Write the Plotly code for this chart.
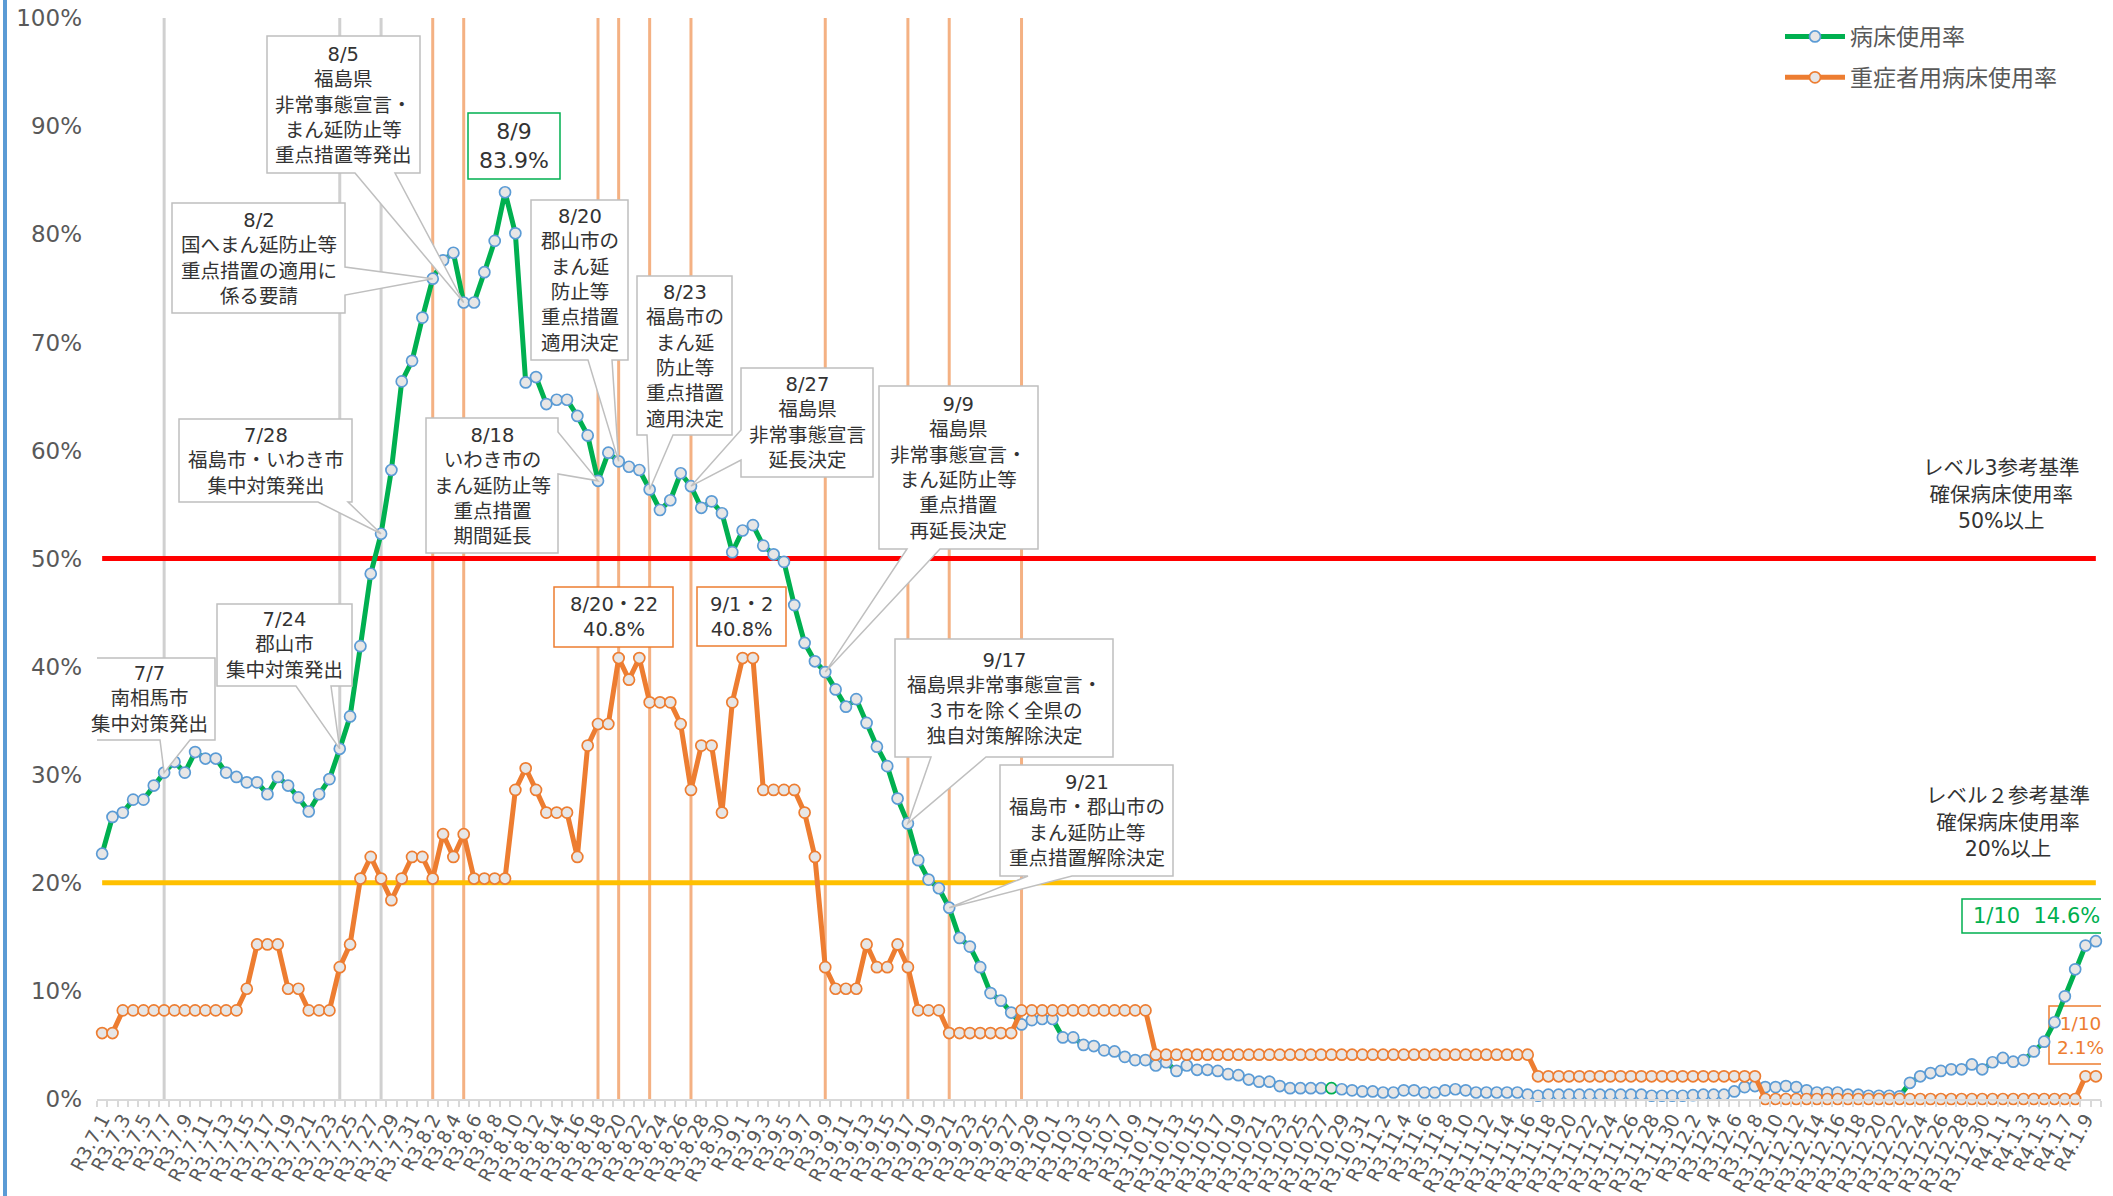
import datetime as dt
import plotly.graph_objects as go

# ---------------- data ----------------
START = dt.date(2021, 7, 1)
N_DAYS = 194
dates = [START + dt.timedelta(days=i) for i in range(N_DAYS)]
labels = [f"R{d.year - 2018}.{d.month}.{d.day}" for d in dates]

bed_rate = [  # 病床使用率 (%)
    22.7, 26.1, 26.5, 27.7, 27.7, 29.0, 30.2, 31.2, 30.2, 32.1,
    31.5, 31.5, 30.2, 29.8, 29.3, 29.3, 28.2, 29.8, 29.0, 27.9,
    26.6, 28.2, 29.6, 32.4, 35.4, 41.9, 48.6, 52.3, 58.2, 66.4,
    68.3, 72.3, 75.9, 77.6, 78.3, 73.7, 73.7, 76.5, 79.4, 83.9,
    80.1, 66.3, 66.8, 64.3, 64.7, 64.7, 63.2, 61.4, 57.2, 59.8,
    59.0, 58.5, 58.2, 56.4, 54.5, 55.4, 57.9, 56.7, 54.7, 55.3,
    54.2, 50.6, 52.6, 53.1, 51.2, 50.4, 49.7, 45.7, 42.2, 40.5,
    39.5, 37.9, 36.3, 37.0, 34.8, 32.6, 30.8, 27.8, 25.5, 22.1,
    20.3, 19.5, 17.7, 14.9, 14.1, 12.2, 9.8, 9.1, 8.0, 6.9,
    7.3, 7.4, 7.4, 5.7, 5.7, 5.0, 4.9, 4.5, 4.4, 3.9,
    3.6, 3.6, 3.1, 3.4, 2.6, 3.1, 2.7, 2.7, 2.6, 2.3,
    2.2, 1.8, 1.6, 1.6, 1.2, 1.0, 1.0, 1.0, 1.0, 1.0,
    0.9, 0.8, 0.7, 0.7, 0.6, 0.6, 0.8, 0.8, 0.6, 0.6,
    0.8, 0.9, 0.8, 0.6, 0.6, 0.6, 0.6, 0.6, 0.4, 0.3,
    0.4, 0.4, 0.4, 0.4, 0.4, 0.4, 0.4, 0.4, 0.4, 0.4,
    0.3, 0.3, 0.3, 0.3, 0.35, 0.4, 0.4, 0.4, 0.7, 1.1,
    1.2, 1.1, 1.1, 1.2, 1.1, 0.8, 0.6, 0.6, 0.6, 0.4,
    0.4, 0.3, 0.3, 0.3, 0.25, 1.5, 2.1, 2.4, 2.6, 2.75,
    2.75, 3.2, 2.75, 3.4, 3.8, 3.45, 3.6, 4.4, 5.3, 7.1,
    9.5, 12.0, 14.2, 14.6,
]

severe_rate = [  # 重症者用病床使用率 (%)
    6.1, 6.1, 8.2, 8.2, 8.2, 8.2, 8.2, 8.2, 8.2, 8.2,
    8.2, 8.2, 8.2, 8.2, 10.2, 14.3, 14.3, 14.3, 10.2, 10.2,
    8.2, 8.2, 8.2, 12.2, 14.3, 20.4, 22.4, 20.4, 18.4, 20.4,
    22.4, 22.4, 20.4, 24.5, 22.4, 24.5, 20.4, 20.4, 20.4, 20.4,
    28.6, 30.6, 28.6, 26.5, 26.5, 26.5, 22.4, 32.7, 34.7, 34.7,
    40.8, 38.8, 40.8, 36.7, 36.7, 36.7, 34.7, 28.6, 32.7, 32.7,
    26.5, 36.7, 40.8, 40.8, 28.6, 28.6, 28.6, 28.6, 26.5, 22.4,
    12.2, 10.2, 10.2, 10.2, 14.3, 12.2, 12.2, 14.3, 12.2, 8.2,
    8.2, 8.2, 6.1, 6.1, 6.1, 6.1, 6.1, 6.1, 6.1, 8.2,
    8.2, 8.2, 8.2, 8.2, 8.2, 8.2, 8.2, 8.2, 8.2, 8.2,
    8.2, 8.2, 4.1, 4.1, 4.1, 4.1, 4.1, 4.1, 4.1, 4.1,
    4.1, 4.1, 4.1, 4.1, 4.1, 4.1, 4.1, 4.1, 4.1, 4.1,
    4.1, 4.1, 4.1, 4.1, 4.1, 4.1, 4.1, 4.1, 4.1, 4.1,
    4.1, 4.1, 4.1, 4.1, 4.1, 4.1, 4.1, 4.1, 4.1, 2.1,
    2.1, 2.1, 2.1, 2.1, 2.1, 2.1, 2.1, 2.1, 2.1, 2.1,
    2.1, 2.1, 2.1, 2.1, 2.1, 2.1, 2.1, 2.1, 2.1, 2.1,
    2.1, 0.0, 0.0, 0.0, 0.0, 0.0, 0.0, 0.0, 0.0, 0.0,
    0.0, 0.0, 0.0, 0.0, 0.0, 0.0, 0.0, 0.0, 0.0, 0.0,
    0.0, 0.0, 0.0, 0.0, 0.0, 0.0, 0.0, 0.0, 0.0, 0.0,
    0.0, 0.0, 2.1, 2.1,
]

level3 = 50
level2 = 20
gray_events = ["R3.7.7", "R3.7.24", "R3.7.28"]
orange_events = ["R3.8.2", "R3.8.5", "R3.8.18", "R3.8.20", "R3.8.23",
                 "R3.8.27", "R3.9.9", "R3.9.17", "R3.9.21", "R3.9.28"]
odd_marker_date = "R3.10.28"

# ---------------- layout constants ----------------
W, H = 2113, 1196
YMAX = 100.3
ML, MR, MT, MB = 97, 12, 15, 97
PW, PH = W - ML - MR, H - MT - MB
FONT = "DejaVu Sans, Noto Sans CJK JP, sans-serif"
CJK = "Noto Sans CJK JP, sans-serif"
TXT = "#333333"
GREEN, BLUE, ORANGE = "#00B050", "#5B9BD5", "#ED7D31"


def px2x(px):
    return -0.5 + (px - ML) / PW * N_DAYS


def py2y(py):
    return (H - MB - py) / PH * YMAX


xs = list(range(N_DAYS))
idx = {lab: i for i, lab in enumerate(labels)}

fig = go.Figure()

# threshold lines
for lv, col in [(level3, "#FF0000"), (level2, "#FFC000")]:
    fig.add_trace(go.Scatter(x=[xs[0], xs[-1]], y=[lv, lv], mode="lines",
                             line=dict(color=col, width=5), showlegend=False,
                             hoverinfo="skip", cliponaxis=False))

green_outline = [GREEN if labels[i] == odd_marker_date else BLUE for i in xs]
fig.add_trace(go.Scatter(
    x=xs, y=bed_rate, name="病床使用率", mode="lines+markers",
    line=dict(color=GREEN, width=5),
    marker=dict(size=11, color="#E7E6E6", line=dict(color=green_outline, width=1.7)),
    legendgroup="a", cliponaxis=False,
    customdata=labels, hovertemplate="%{customdata}: %{y:.1f}%<extra></extra>"))
fig.add_trace(go.Scatter(
    x=xs, y=severe_rate, name="重症者用病床使用率", mode="lines+markers",
    line=dict(color=ORANGE, width=5),
    marker=dict(size=11, color="#E7E6E6", line=dict(color=ORANGE, width=1.7)),
    legendgroup="b", cliponaxis=False,
    customdata=labels, hovertemplate="%{customdata}: %{y:.1f}%<extra></extra>"))

shapes = []
# left blue border
shapes.append(dict(type="rect", xref="paper", yref="paper",
                   x0=(3 - ML) / PW, x1=(7 - ML) / PW,
                   y0=(H - MB - H) / PH, y1=(H - MB) / PH,
                   fillcolor=BLUE, line=dict(width=0), layer="above"))
# event lines
for ev in gray_events:
    i = idx[ev]
    shapes.append(dict(type="line", xref="x", yref="y", x0=i, x1=i, y0=0, y1=py2y(18),
                       line=dict(color="#D0D0D0", width=3), layer="below"))
for ev in orange_events:
    i = idx[ev]
    shapes.append(dict(type="line", xref="x", yref="y", x0=i, x1=i, y0=0, y1=py2y(18),
                       line=dict(color="#F4B183", width=3), layer="below"))

annotations = []

# callouts: text, box (left, right, top, bottom px), wedge side, wedge base (px), target date
callouts = [
    ("7/7<br>南相馬市<br>集中対策発出", (83, 215, 658, 740), "b", (160, 190), "R3.7.7"),
    ("7/24<br>郡山市<br>集中対策発出", (217, 352, 604, 686), "b", (296, 331), "R3.7.24"),
    ("7/28<br>福島市・いわき市<br>集中対策発出", (179, 352, 419, 502), "b", (318, 348), "R3.7.28"),
    ("8/2<br>国へまん延防止等<br>重点措置の適用に<br>係る要請", (172, 345, 203, 313), "r", (267, 295), "R3.8.2"),
    ("8/5<br>福島県<br>非常事態宣言・<br>まん延防止等<br>重点措置等発出", (267, 420, 36, 173), "b", (355, 395), "R3.8.5"),
    ("8/18<br>いわき市の<br>まん延防止等<br>重点措置<br>期間延長", (426, 558, 418, 553), "r", (432, 474), "R3.8.18"),
    ("8/20<br>郡山市の<br>まん延<br>防止等<br>重点措置<br>適用決定", (531, 628, 200, 360), "b", (588, 612), "R3.8.20"),
    ("8/23<br>福島市の<br>まん延<br>防止等<br>重点措置<br>適用決定", (637, 732, 276, 435), "b", (647, 673), "R3.8.23"),
    ("8/27<br>福島県<br>非常事態宣言<br>延長決定", (741, 873, 368, 477), "l", (430, 460), "R3.8.27"),
    ("9/9<br>福島県<br>非常事態宣言・<br>まん延防止等<br>重点措置<br>再延長決定", (879, 1038, 386, 549), "b", (907, 940), "R3.9.9"),
    ("9/17<br>福島県非常事態宣言・<br>３市を除く全県の<br>独自対策解除決定", (895, 1113, 639, 757), "b", (931, 986), "R3.9.17"),
    ("9/21<br>福島市・郡山市の<br>まん延防止等<br>重点措置解除決定", (1000, 1173, 765, 876), "b", (1028, 1072), "R3.9.21"),
]

for text, (l, r, t, b), side, (b1, b2), target in callouts:
    i = idx[target]
    tx, ty = i, bed_rate[i]
    L, R, T, B = px2x(l), px2x(r), py2y(t), py2y(b)
    if side == "b":
        pts = [(L, T), (R, T), (R, B), (px2x(b2), B), (tx, ty), (px2x(b1), B), (L, B)]
    elif side == "r":
        pts = [(L, T), (R, T), (R, py2y(b1)), (tx, ty), (R, py2y(b2)), (R, B), (L, B)]
    else:
        pts = [(L, T), (R, T), (R, B), (L, B), (L, py2y(b2)), (tx, ty), (L, py2y(b1))]
    path = "M " + " L ".join(f"{px:.4f},{py:.4f}" for px, py in pts) + " Z"
    shapes.append(dict(type="path", xref="x", yref="y", path=path,
                       fillcolor="white", line=dict(color="#BFBFBF", width=1.5),
                       layer="above"))
    annotations.append(dict(x=(L + R) / 2, y=(T + B) / 2, xref="x", yref="y",
                            text=text, showarrow=False, align="center",
                            font=dict(family=FONT, size=19.5, color=TXT)))

# value boxes: text, box, border colour, text colour, size, layer
value_boxes = [
    ("8/9<br>83.9%", (468, 560, 113, 179), GREEN, TXT, 22, "above"),
    ("8/20・22<br>40.8%", (554, 673, 587, 647), ORANGE, TXT, 19.5, "above"),
    ("9/1・2<br>40.8%", (697, 786, 587, 646), ORANGE, TXT, 19.5, "above"),
    ("1/10  14.6%", (1962, 2110, 899, 933), GREEN, GREEN, 21, "above"),
    ("1/10<br>2.1%", (2049, 2111, 1006, 1064), ORANGE, ORANGE, 18.5, "below"),
]
for text, (l, r, t, b), bc, tc, fs, layer in value_boxes:
    L, R, T, B = px2x(l), px2x(r), py2y(t), py2y(b)
    shapes.append(dict(type="rect", xref="x", yref="y", x0=L, x1=R, y0=B, y1=T,
                       fillcolor="white", line=dict(color=bc, width=1.5), layer=layer))
    annotations.append(dict(x=(L + R) / 2, y=(T + B) / 2, xref="x", yref="y",
                            text=text, showarrow=False, align="center",
                            font=dict(family=FONT, size=fs, color=tc)))

# threshold texts
annotations.append(dict(x=px2x(2001), y=py2y(494), xref="x", yref="y",
                        text="レベル3参考基準<br>確保病床使用率<br>50%以上",
                        showarrow=False, align="center",
                        font=dict(family=FONT, size=20.5, color=TXT)))
annotations.append(dict(x=px2x(2008), y=py2y(822), xref="x", yref="y",
                        text="レベル２参考基準<br>確保病床使用率<br>20%以上",
                        showarrow=False, align="center",
                        font=dict(family=FONT, size=20.5, color=TXT)))

tickvals = [i for i in xs if i % 2 == 0]
ticktext = [labels[i] for i in tickvals]

fig.update_layout(
    width=W, height=H,
    margin=dict(l=ML, r=MR, t=MT, b=MB, autoexpand=False),
    paper_bgcolor="white", plot_bgcolor="white",
    font=dict(family=FONT, color="#595959"),
    shapes=shapes, annotations=annotations,
    showlegend=True,
    legend=dict(x=(1780 - ML) / PW, y=1.0, xanchor="left", yanchor="top",
                font=dict(family=CJK, size=23, color="#595959"),
                bgcolor="rgba(0,0,0,0)", tracegroupgap=8, itemwidth=60),
    xaxis=dict(range=[-0.5, N_DAYS - 0.5], showgrid=False, zeroline=False,
               automargin=False, ticklabeloverflow="allow",
               showline=True, linecolor="#D9D9D9", linewidth=1.5,
               tickmode="array", tickvals=tickvals, ticktext=ticktext,
               ticks="", tickangle=-62,
               tickfont=dict(family="DejaVu Sans, sans-serif", size=19, color="#595959"),
               minor=dict(tickmode="array", tickvals=[i - 0.5 for i in range(N_DAYS + 1)],
                          ticks="outside", ticklen=6, tickcolor="#D9D9D9", tickwidth=1.5)),
    yaxis=dict(range=[0, YMAX], showgrid=False, zeroline=False, showline=False,
               automargin=False, ticklabeloverflow="allow",
               tickmode="array", tickvals=list(range(0, 101, 10)),
               ticktext=[f"{v}%" for v in range(0, 101, 10)],
               ticks="", ticklabelstandoff=14,
               tickfont=dict(family="DejaVu Sans, sans-serif", size=23, color="#595959")),
)

fig.write_html("out.html", config={"displayModeBar": False},
               post_script="document.body.style.margin='0';")
